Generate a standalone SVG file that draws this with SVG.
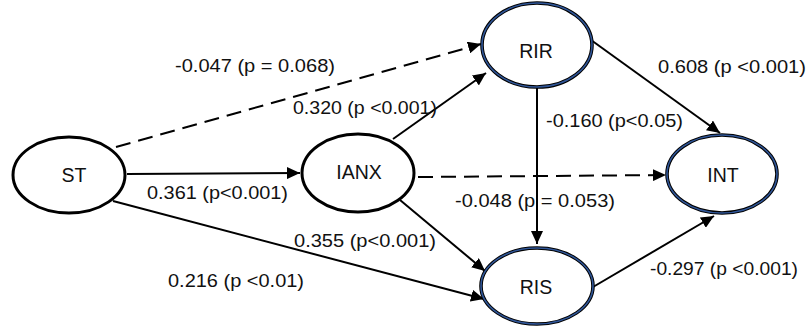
<svg xmlns="http://www.w3.org/2000/svg" width="808" height="327" viewBox="0 0 808 327">
<defs>
<marker id="ah" markerUnits="userSpaceOnUse" markerWidth="14" markerHeight="12" refX="13" refY="6" orient="auto">
<path d="M0,0 L13,6 L0,12 z" fill="#000"/>
</marker>
<style>
.n-black{fill:#fff;stroke:#000;stroke-width:3}
.n-outer{fill:#fff;stroke:#000;stroke-width:3.6}
.n-inner{fill:none;stroke:#2f5597;stroke-width:1.6}
.nt{font-family:"Liberation Sans",Arial,sans-serif;font-size:19.5px;fill:#111;text-anchor:middle}
.lb{font-family:"Liberation Sans",Arial,sans-serif;font-size:18.5px;fill:#111}
.c{stroke:#000;stroke-width:2;fill:none;marker-end:url(#ah)}
.d{stroke-dasharray:15 8}
</style>
</defs>
<rect width="808" height="327" fill="#fff"/>
<g id="connectors">
<line class="c d" x1="116" y1="147" x2="481" y2="44"/>
<line class="c" x1="127" y1="174" x2="300" y2="173"/>
<line class="c" x1="113" y1="201" x2="484" y2="299"/>
<line class="c" x1="393" y1="139" x2="486" y2="73"/>
<line class="c" x1="400" y1="200" x2="485" y2="271"/>
<line class="c d" x1="418" y1="177" x2="666" y2="175"/>
<line class="c" x1="591" y1="40" x2="720" y2="133"/>
<line class="c" x1="537" y1="88" x2="537" y2="244"/>
<line class="c" x1="593" y1="287" x2="714" y2="216"/>
</g>
<g id="labels">
<text class="lb" x="175" y="72" textLength="160" lengthAdjust="spacingAndGlyphs">-0.047 (p = 0.068)</text>
<text class="lb" x="293" y="114" textLength="144" lengthAdjust="spacingAndGlyphs">0.320 (p &lt;0.001)</text>
<text class="lb" x="147" y="199" textLength="141" lengthAdjust="spacingAndGlyphs">0.361 (p&lt;0.001)</text>
<text class="lb" x="294" y="247" textLength="142" lengthAdjust="spacingAndGlyphs">0.355 (p&lt;0.001)</text>
<text class="lb" x="168" y="287" textLength="136" lengthAdjust="spacingAndGlyphs">0.216 (p &lt;0.01)</text>
<text class="lb" x="658" y="73" textLength="148" lengthAdjust="spacingAndGlyphs">0.608 (p &lt;0.001)</text>
<text class="lb" x="546" y="127" textLength="137" lengthAdjust="spacingAndGlyphs">-0.160 (p&lt;0.05)</text>
<text class="lb" x="455" y="207" textLength="160" lengthAdjust="spacingAndGlyphs">-0.048 (p = 0.053)</text>
<text class="lb" x="650" y="275" textLength="148" lengthAdjust="spacingAndGlyphs">-0.297 (p &lt;0.001)</text>
</g>
<g id="node-ST">
<ellipse class="n-black" cx="69" cy="175" rx="56" ry="38"/>
<text class="nt" x="74" y="182">ST</text>
</g>
<g id="node-IANX">
<ellipse class="n-black" cx="358" cy="173" rx="56" ry="39"/>
<text class="nt" x="359" y="179">IANX</text>
</g>
<g id="node-RIR">
<ellipse class="n-outer" cx="537" cy="45" rx="55" ry="42"/>
<ellipse class="n-inner" cx="537" cy="45" rx="55" ry="42"/>
<text class="nt" x="536" y="58">RIR</text>
</g>
<g id="node-RIS">
<ellipse class="n-outer" cx="537" cy="286" rx="56" ry="38"/>
<ellipse class="n-inner" cx="537" cy="286" rx="56" ry="38"/>
<text class="nt" x="536" y="294">RIS</text>
</g>
<g id="node-INT">
<ellipse class="n-outer" cx="722" cy="174" rx="55" ry="39"/>
<ellipse class="n-inner" cx="722" cy="174" rx="55" ry="39"/>
<text class="nt" x="723" y="182">INT</text>
</g>
</svg>
